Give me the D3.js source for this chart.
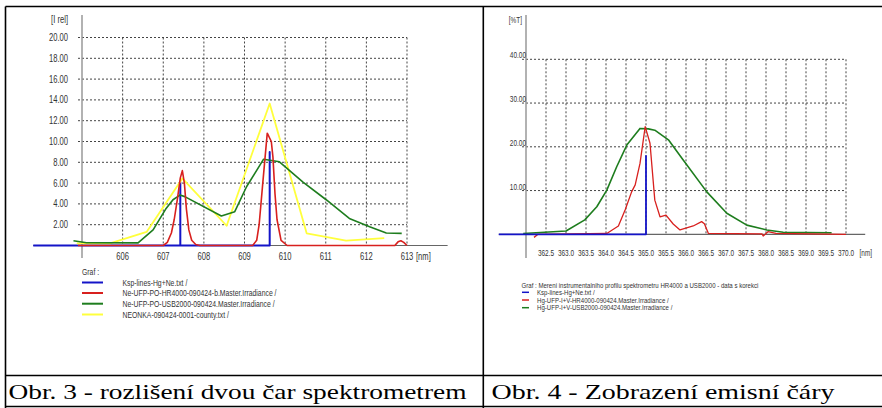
<!DOCTYPE html>
<html>
<head>
<meta charset="utf-8">
<script src="https://cdn.jsdelivr.net/npm/d3@7"></script>
<style>
  body { margin: 0; background: #fff; }
</style>
</head>
<body>
<div id="chart"></div>
<script>
// ---- left chart (Obr. 3) data ----
var leftXTicks = [606, 607, 608, 609, 610, 611, 612, 613];
var leftYTicks = [2, 4, 6, 8, 10, 12, 14, 16, 18, 20];
var leftBlue = [[603.8, 0], [607.42, 0], [607.42, 6.07], [607.42, 0], [609.62, 0], [609.62, 9.0], [609.62, 0]];
var leftRed = [[604.9, 0], [607.0, 0], [607.1, 0.3], [607.2, 1.2], [607.27, 2.5], [607.35, 4.5], [607.42, 6.5],
    [607.47, 7.2], [607.52, 6.0], [607.57, 3.5], [607.63, 1.5], [607.7, 0.5], [607.8, 0.1], [607.9, 0],
    [609.2, 0], [609.3, 0.5], [609.36, 2], [609.45, 6], [609.56, 10.8], [609.66, 10.0], [609.7, 8.5],
    [609.75, 5], [609.8, 2.5], [609.9, 0.5], [610.05, 0], [612.7, 0], [612.78, 0.35], [612.85, 0.45],
    [612.92, 0.3], [613.0, 0]];
var leftGreen = [[604.79, 0.45], [605.11, 0.27], [606.38, 0.25], [606.75, 1.5], [607.06, 3.5], [607.24, 4.4],
    [607.41, 4.85], [607.53, 4.7], [608.43, 2.84], [608.76, 3.25], [609.05, 5.65], [609.47, 8.3],
    [609.86, 8.05], [610.44, 6.1], [611.01, 4.4], [611.58, 2.6], [612.08, 1.8], [612.49, 1.2], [612.87, 1.17]];
var leftYellow = [[604.87, 0.2], [605.69, 0.2], [606.59, 1.3], [607.47, 6.45], [608.56, 1.9], [609.62, 13.65],
    [610.53, 1.17], [611.5, 0.46], [612.44, 0.7]];
var leftLegend = ["Ksp-lines-Hg+Ne.txt /", "Ne-UFP-PO-HR4000-090424-b.Master.Irradiance /",
    "Ne-UFP-PO-USB2000-090424.Master.Irradiance /", "NEONKA-090424-0001-county.txt /"];

// ---- right chart (Obr. 4) data ----
var rightXTicks = [362.5, 363.0, 363.5, 364.0, 364.5, 365.0, 365.5, 366.0, 366.5, 367.0, 367.5, 368.0, 368.5, 369.0, 369.5, 370.0];
var rightYTicks = [10, 20, 30, 40];
var rightBlue = [[361.32, 0], [365.0, 0], [365.0, 17.9], [365.0, 0]];
var rightGreen = [[361.93, 0.2], [363.0, 0.75], [363.47, 3.3], [363.77, 6.3], [364.02, 10.1], [364.27, 15.5],
    [364.52, 20.4], [364.85, 24.2], [365.06, 24.1], [365.22, 23.8], [365.56, 21.6], [365.93, 17],
    [366.52, 9.7], [367.02, 4.8], [367.52, 2.1], [368.02, 1.0], [368.43, 0.45], [369.64, 0.35]];
var rightRed = [[362.2, -0.7], [362.3, 0], [364.02, 0.2], [364.31, 1.9], [364.48, 5.6], [364.64, 9.7],
    [364.73, 11.3], [364.85, 16.2], [364.98, 24.6], [365.1, 20.8], [365.22, 7.8], [365.35, 4.0],
    [365.5, 4.4], [365.68, 2.35], [365.85, 1.0], [366.18, 1.9], [366.39, 2.9], [366.46, 2.4],
    [366.56, 0.2], [367.9, 0.1], [367.93, -0.4], [368.05, 0.6], [368.25, 0.2], [370.0, 0]];
var rightLegendTitle = "Graf : Mereni instrumentalniho profilu spektrometru HR4000 a USB2000 - data s korekci";
var rightLegend = ["Ksp-lines-Hg+Ne.txt /", "Hg-UFP-I+V-HR4000-090424.Master.Irradiance /",
    "Hg-UFP-I+V-USB2000-090424.Master.Irradiance /"];

var captions = ["Obr. 3 - rozlišení dvou čar spektrometrem", "Obr. 4 - Zobrazení emisní čáry"];

var BLUE = "#1414c8", RED = "#d8201e", GREEN = "#1e7d1e", YELLOW = "#ffff3c";

// pick the first installed font from a list (canvas width check)
var pickFont = function (list, generic) {
    var ctx = document.createElement("canvas").getContext("2d");
    var s = "Obr. 3 - rozlišení dvou čar 0123456789 abcdefghijklmnopqrstuvwxyz";
    ctx.font = "40px monospace";
    var m = ctx.measureText(s).width;
    ctx.font = "40px sans-serif";
    var ss = ctx.measureText(s).width;
    for (var i = 0; i < list.length; i++) {
        ctx.font = "40px '" + list[i] + "', monospace";
        var a = ctx.measureText(s).width;
        ctx.font = "40px '" + list[i] + "', sans-serif";
        var b = ctx.measureText(s).width;
        if (a !== m || b !== ss) return "'" + list[i] + "', " + generic;
    }
    return generic;
};
var SANS = pickFont(["Liberation Sans Narrow", "Arial Narrow", "Liberation Sans", "Arial", "DejaVu Sans Condensed"], "sans-serif");
var SERIF = pickFont(["Liberation Serif", "Times New Roman", "Tinos", "Times", "Nimbus Roman", "FreeSerif"], "serif");

var svg = d3.select("#chart").append("svg")
    .attr("width", 882)
    .attr("height", 408);

var label = function (parent, x, y, size, txt, anchor) {
    return parent.append("text")
        .attr("class", "tick-label")
        .attr("x", x).attr("y", y)
        .attr("text-anchor", anchor || "start")
        .style("font-family", SANS)
        .style("font-size", size + "px")
        .style("fill", "#333")
        .text(txt);
};

var drawChart = function (opt) {
    var g = svg.append("g");
    var x = d3.scaleLinear().domain(opt.xDomain).range(opt.xRange);
    var y = d3.scaleLinear().domain(opt.yDomain).range(opt.yRange);
    var y0 = y(0), yTop = y(opt.yDomain[1]);

    // dashed grid
    g.selectAll(".hgrid").data(opt.yTicks).enter().append("line")
        .attr("x1", x(opt.xDomain[0]) - 4).attr("x2", x(opt.xDomain[1]))
        .attr("y1", function (d) { return y(d); }).attr("y2", function (d) { return y(d); })
        .attr("stroke", "#444").attr("stroke-width", 1).attr("stroke-dasharray", "2,2");
    g.selectAll(".vgrid").data(opt.xTicks).enter().append("line")
        .attr("x1", function (d) { return x(d); }).attr("x2", function (d) { return x(d); })
        .attr("y1", yTop).attr("y2", y0)
        .attr("stroke", "#444").attr("stroke-width", 1).attr("stroke-dasharray", "2,2");

    // axes
    g.append("line")
        .attr("x1", x(opt.xDomain[0])).attr("x2", x(opt.xDomain[0]))
        .attr("y1", 15).attr("y2", opt.axisBottom)
        .attr("stroke", "#999").attr("stroke-width", 1.5);
    g.append("line")
        .attr("x1", x(opt.axisLeft)).attr("x2", x(opt.axisRight))
        .attr("y1", y0).attr("y2", y0)
        .attr("stroke", "#666").attr("stroke-width", 1.2);

    // tick labels
    opt.yTicks.forEach(function (d) {
        label(g, opt.yLabelX, y(d) + opt.yLabelDy, opt.fontSize, d3.format(".2f")(d), "end");
    });
    label(g, opt.yLabelX + opt.unitDx, 23, opt.fontSize, opt.yUnit, "end");
    opt.xTicks.forEach(function (d) {
        label(g, x(d), opt.xLabelY, opt.fontSize, opt.xFormat(d), "middle");
    });
    label(g, x(opt.xDomain[1]) + opt.nmDx, opt.xLabelY, opt.fontSize, "[nm]");

    // series
    var line = d3.line()
        .x(function (d) { return x(d[0]); })
        .y(function (d) { return y(d[1]); });
    opt.series.forEach(function (s) {
        g.append("path")
            .datum(s.data)
            .attr("d", line)
            .attr("fill", "none")
            .attr("stroke", s.color)
            .attr("stroke-width", s.width || 1.6)
            .attr("stroke-linejoin", "round");
    });
};

drawChart({
    xDomain: [605, 613], xRange: [82, 407],
    yDomain: [0, 20], yRange: [245.5, 37.5],
    xTicks: leftXTicks, yTicks: leftYTicks,
    axisLeft: 603.8, axisRight: 614.0, axisBottom: 258,
    yLabelX: 68, yLabelDy: 3.5, xLabelY: 259.5, fontSize: 10, nmDx: 9, unitDx: 0,
    yUnit: "[I rel]",
    xFormat: d3.format("d"),
    series: [
        { data: leftBlue, color: BLUE, width: 2 },
        { data: leftYellow, color: YELLOW, width: 1.8 },
        { data: leftGreen, color: GREEN, width: 1.6 },
        { data: leftRed, color: RED, width: 1.6 }
    ]
});

drawChart({
    xDomain: [362, 370], xRange: [526, 846],
    yDomain: [0, 40], yRange: [234.3, 59.3],
    xTicks: rightXTicks, yTicks: rightYTicks,
    axisLeft: 361.32, axisRight: 370.48, axisBottom: 258,
    yLabelX: 526, yLabelDy: -1, xLabelY: 256, fontSize: 8.5, nmDx: 13.5, unitDx: -4,
    yUnit: "[%T]",
    xFormat: d3.format(".1f"),
    series: [
        { data: rightGreen, color: GREEN, width: 1.6 },
        { data: rightRed, color: RED, width: 1.3 },
        { data: rightBlue, color: BLUE, width: 1.8 }
    ]
});

// legends
var leftColors = [BLUE, RED, GREEN, YELLOW];
var leftRows = [282.5, 293, 303.7, 314.5];
label(svg, 82, 274.5, 9, "Graf :");
var calib = null;
leftLegend.forEach(function (t, i) {
    svg.append("line").attr("x1", 82).attr("x2", 103)
        .attr("y1", leftRows[i]).attr("y2", leftRows[i])
        .attr("stroke", leftColors[i]).attr("stroke-width", 2);
    var tx = label(svg, 122.5, leftRows[i] + 3.2, 9, t);
    if (i === 1) calib = tx;
});

var rightColors = [BLUE, RED, GREEN];
var rightRows = [292.3, 300, 307.7];
label(svg, 521.5, 287.5, 8, rightLegendTitle);
rightLegend.forEach(function (t, i) {
    svg.append("line").attr("x1", 522).attr("x2", 529)
        .attr("y1", rightRows[i]).attr("y2", rightRows[i])
        .attr("stroke", rightColors[i]).attr("stroke-width", 1.5);
    label(svg, 537, rightRows[i] + 2.7, 8, t);
});

// squeeze the sans labels to the narrow look of the original (legend entry is ~154px wide)
var k = Math.min(1, 154 / calib.node().getComputedTextLength());
svg.selectAll(".tick-label").each(function () {
    var w = this.getComputedTextLength();
    d3.select(this).attr("textLength", w * k).attr("lengthAdjust", "spacingAndGlyphs");
});

// table frame
var frame = [
    [5.5, 6.5, 882, 6.5], [5.5, 6.5, 5.5, 408], [483.3, 6.5, 483.3, 408],
    [5.5, 375.5, 882, 375.5], [5.5, 406.5, 882, 406.5]
];
svg.selectAll(".frame").data(frame).enter().append("line")
    .attr("x1", function (d) { return d[0]; }).attr("y1", function (d) { return d[1]; })
    .attr("x2", function (d) { return d[2]; }).attr("y2", function (d) { return d[3]; })
    .attr("stroke", "#000").attr("stroke-width", 1.6);

// captions
[[8.5, 458], [491.5, 343]].forEach(function (c, i) {
    svg.append("text")
        .attr("x", c[0]).attr("y", 399)
        .style("font-family", SERIF)
        .style("font-size", "21.5px")
        .attr("textLength", c[1]).attr("lengthAdjust", "spacingAndGlyphs")
        .text(captions[i]);
});
</script>
</body>
</html>
